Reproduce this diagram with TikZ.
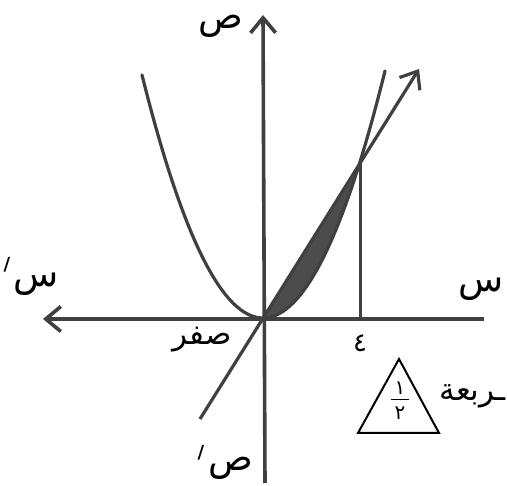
\documentclass[tikz,border=0pt]{standalone}
\usepackage{fontspec}
\newfontfamily\arabicfont[Script=Arabic]{DejaVu Sans}
\newfontfamily\plainfont{DejaVu Sans}
\TeXXeTstate=1
\usetikzlibrary{arrows.meta}
\definecolor{ink}{HTML}{404040}
\definecolor{shadefill}{HTML}{4C4C4C}
\tikzset{
  axisline/.style={draw=ink, line width=3.6pt, -{Straight Barb[length=15pt,width=25pt]}},
  curveline/.style={draw=ink, line width=3.2pt, line cap=round},
  arlab/.style={font=\arabicfont\fontsize{31}{34}\selectfont, inner sep=0pt, text=black},
  bigarlab/.style={font=\arabicfont\fontsize{37}{40}\selectfont, inner sep=0pt, text=black},
  primelab/.style={font=\plainfont\bfseries\fontsize{18}{20}\selectfont, inner sep=0pt, text=black},
  digitlab/.style={font=\arabicfont\fontsize{20}{22}\selectfont, inner sep=0pt, text=black},
}
\begin{document}
\begin{tikzpicture}[x=1pt,y=-1pt]
\useasboundingbox[fill=white] (0,0) rectangle (507,486);
% key points
\coordinate (O) at (263,318);
\coordinate (P) at (360,162);
\coordinate (Pfoot) at (360,318);
\coordinate (xL) at (43,319);
\coordinate (xR) at (484,319);
\coordinate (yT) at (263,15);
\coordinate (yB) at (265,483);
\coordinate (lineLow) at (200,419);
\coordinate (lineTip) at (419,69);
% shaded region between line and parabola
\fill[shadefill] (O) -- (P) -- plot[domain=97:0, samples=40] ({263+\x},{318-0.0166*\x*\x}) -- cycle;
% parabola
\draw[curveline] plot[domain=-121:122, samples=80] ({263+\x},{318-0.0166*\x*\x});
% line with arrow
\draw[curveline, line cap=butt, -{Straight Barb[length=15pt,width=24pt]}] (lineLow) -- (lineTip);
% vertical segment at x = 4
\draw[draw=ink, line width=3pt] (Pfoot) -- (P);
% axes
\draw[axisline] (xR) -- (xL);
\draw[axisline] (yB) -- (yT);
% labels
\node[bigarlab] (ylabT) at (221,26) {\beginR ص\endR};
\node[bigarlab] (xlabL) at (36,284) {\beginR س\endR};
\node[primelab] (xprimeL) at (7,265) {/};
\node[bigarlab] (xlabR) at (481,289) {\beginR س\endR};
\node[bigarlab] (ylabB) at (231,468) {\beginR ص\endR};
\node[primelab] (yprimeB) at (201,453) {/};
\node[arlab] (zero) at (202,340) {\beginR صفر\endR};
\node[arlab, font=\arabicfont\fontsize{26}{28}\selectfont] (four) at (360,343) {٤};
% triangle with fraction
\coordinate (tA) at (399,359);
\coordinate (tB) at (358,433);
\coordinate (tC) at (439,433);
\draw[black, line width=2pt, line join=miter] (tA) -- (tB) -- (tC) -- cycle;
\node[digitlab] (num) at (400,388) {١};
\node[digitlab] (den) at (400,413) {٢};
\coordinate (barL) at (391,399.5);
\coordinate (barR) at (409,399.5);
\draw[black, line width=1.8pt] (barL) -- (barR);
\node[arlab, anchor=east] (unit) at (506,396) {\beginR ـربعة\endR};
\end{tikzpicture}
\end{document}
